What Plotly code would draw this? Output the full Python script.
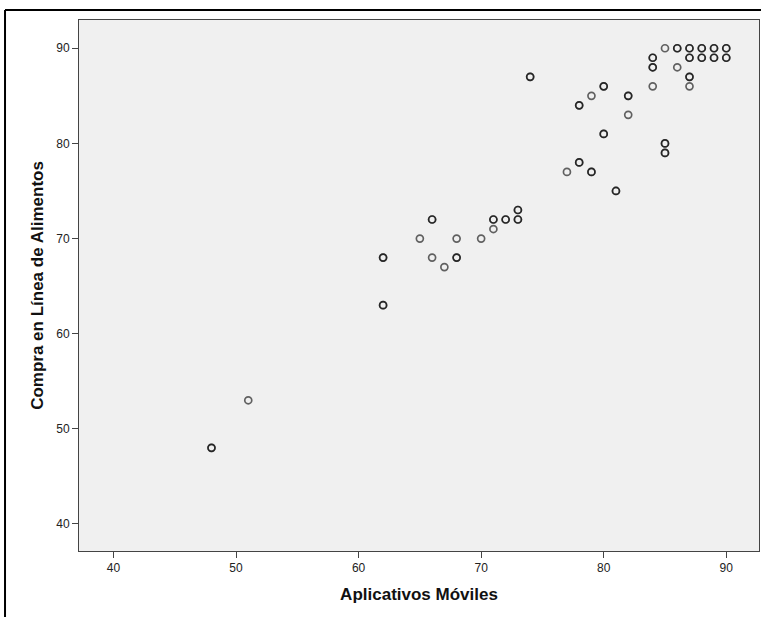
import plotly.graph_objects as go

# Points; repeated pairs are overlapping cases (darker circles)
x_vals = [48, 48, 51, 62, 62, 62, 62, 65, 66, 66, 66, 67, 68, 68, 68, 70,
          71, 71, 71, 72, 72, 73, 73, 73, 73, 74, 74, 77, 78, 78, 78, 78,
          79, 79, 79, 80, 80, 80, 80, 81, 81, 82, 82, 82, 84, 84, 84, 84, 84,
          85, 85, 85, 85, 85, 86, 86, 86, 87, 87, 87, 87, 87, 87, 87,
          88, 88, 88, 88, 89, 89, 89, 89, 90, 90, 90, 90]
y_vals = [48, 48, 53, 68, 68, 63, 63, 70, 72, 72, 68, 67, 70, 68, 68, 70,
          72, 72, 71, 72, 72, 73, 73, 72, 72, 87, 87, 77, 84, 84, 78, 78,
          85, 77, 77, 86, 86, 81, 81, 75, 75, 85, 85, 83, 89, 89, 88, 88, 86,
          90, 80, 80, 79, 79, 90, 90, 88, 90, 90, 89, 89, 87, 87, 86,
          90, 90, 89, 89, 90, 90, 89, 89, 90, 90, 89, 89]

x_ticks = [40, 50, 60, 70, 80, 90]
y_ticks = [40, 50, 60, 70, 80, 90]
x_title = "Aplicativos Móviles"
y_title = "Compra en Línea de Alimentos"

FONT = "Liberation Sans Narrow, Liberation Sans, Arial, sans-serif"

fig = go.Figure()
fig.add_trace(go.Scatter(
    x=x_vals, y=y_vals, mode="markers",
    marker=dict(symbol="circle-open", size=7,
                color="rgba(0,0,0,0.6)",
                line=dict(width=1.7, color="rgba(0,0,0,0.6)")),
    hoverinfo="x+y", showlegend=False,
))

axis_common = dict(
    showgrid=False, zeroline=False, showline=True, linecolor="#444",
    linewidth=1, mirror=True, ticks="outside", ticklen=6, tickwidth=1,
    tickcolor="#444", tickfont=dict(family=FONT, size=12, color="#222"),
)

fig.update_layout(
    width=761, height=617,
    margin=dict(l=79, r=2, t=20, b=66),
    paper_bgcolor="white", plot_bgcolor="#F0F0F0",
    xaxis=dict(range=[37.19, 92.67], tickvals=x_ticks,
               title=dict(text="<b>" + x_title + "</b>",
                          font=dict(family=FONT, size=17, color="#111"),
                          standoff=13),
               **axis_common),
    yaxis=dict(range=[37.16, 92.97], tickvals=y_ticks,
               title=dict(text="<b>" + y_title + "</b>",
                          font=dict(family=FONT, size=17, color="#111"),
                          standoff=8),
               **axis_common),
    shapes=[
        dict(type="line", xref="paper", yref="paper",
             x0=-0.1088, x1=1.01, y0=1.0188, y1=1.0188,
             line=dict(color="black", width=2)),
        dict(type="line", xref="paper", yref="paper",
             x0=-0.1088, x1=-0.1088, y0=1.0188, y1=-0.2,
             line=dict(color="black", width=2)),
    ],
)

fig.write_html("out.html")
